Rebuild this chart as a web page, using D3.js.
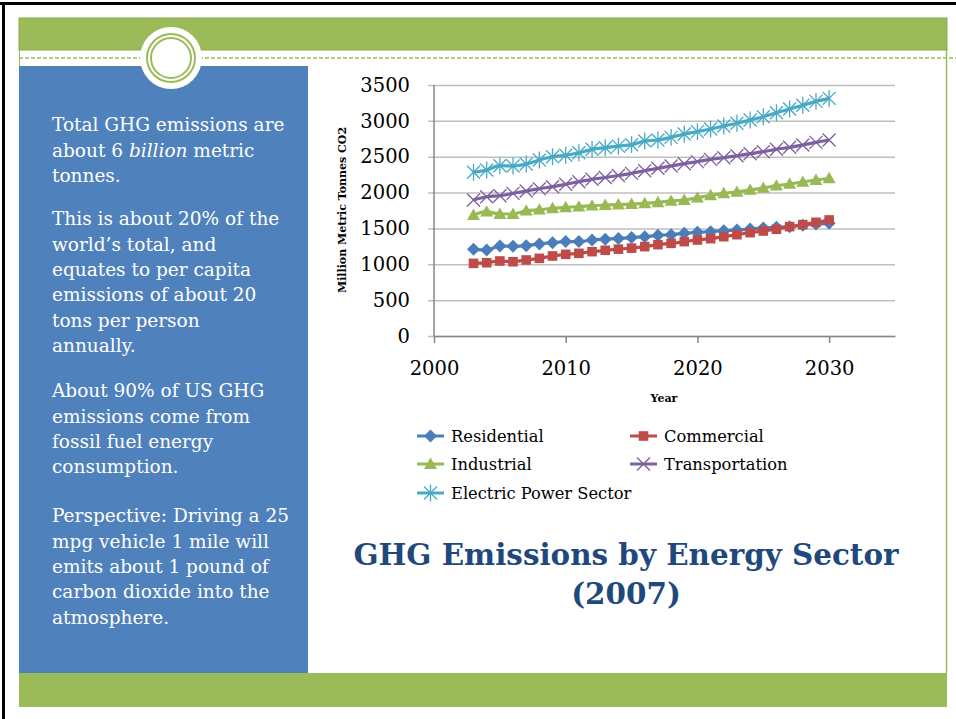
<!doctype html>
<html>
<head>
<meta charset="utf-8">
<style>
  body { margin: 0; background: #fff; }
  svg { display: block; }
  .grid line { stroke: #bfbfbf; stroke-width: 1.5; }
  .grid path { display: none; }
  .tick text { fill: #000; }
  .side { font-family: "DejaVu Serif", serif; font-size: 18.5px; fill: #fff; }
</style>
<script src="https://d3js.org/d3.v7.min.js"></script>
</head>
<body>
<svg width="956" height="719"></svg>
<script>
// ---- data ----
var years = [2003, 2004, 2005, 2006, 2007, 2008, 2009, 2010, 2011, 2012, 2013, 2014, 2015, 2016,
             2017, 2018, 2019, 2020, 2021, 2022, 2023, 2024, 2025, 2026, 2027, 2028, 2029, 2030];
var residential = [1209, 1199, 1255, 1251, 1260, 1283, 1302, 1316, 1316, 1339, 1350, 1360, 1372, 1385,
                   1404, 1413, 1432, 1446, 1455, 1469, 1478, 1492, 1506, 1515, 1525, 1543, 1562, 1571];
var commercial = [1013, 1022, 1046, 1036, 1060, 1083, 1116, 1139, 1153, 1176, 1195, 1211, 1225, 1246,
                  1274, 1292, 1316, 1339, 1357, 1385, 1413, 1441, 1464, 1488, 1525, 1553, 1585, 1618];
var industrial = [1687, 1733, 1701, 1701, 1747, 1761, 1780, 1794, 1803, 1817, 1825, 1832, 1840, 1850,
                  1864, 1883, 1896, 1929, 1961, 1989, 2008, 2036, 2064, 2096, 2120, 2148, 2175, 2199];
var transportation = [1896, 1942, 1956, 1989, 2022, 2054, 2082, 2115, 2152, 2185, 2210, 2238, 2268, 2305,
                      2338, 2370, 2403, 2431, 2463, 2486, 2514, 2542, 2570, 2603, 2631, 2663, 2700, 2733];
var electric = [2283, 2315, 2375, 2370, 2398, 2454, 2500, 2520, 2556, 2603, 2626, 2648, 2668, 2719,
                2733, 2770, 2817, 2850, 2887, 2929, 2966, 3012, 3058, 3114, 3165, 3217, 3272, 3314];

var seriesNames = ["Residential", "Commercial", "Industrial", "Transportation", "Electric Power Sector"];
var seriesValues = [residential, commercial, industrial, transportation, electric];
var seriesColors = ["#4a7ebb", "#be4b48", "#98b954", "#7d60a0", "#46aac5"];
var seriesMarkers = ["diamond", "square", "triangle", "cross", "star"];

var yTicks = [0, 500, 1000, 1500, 2000, 2500, 3000, 3500];
var xTicks = [2000, 2010, 2020, 2030];

var sideText = [
  [["Total GHG emissions are"], ["about 6 ", "billion", " metric"], ["tonnes."]],
  [["This is about 20% of the"], ["world\u2019s total, and"], ["equates to per capita"],
   ["emissions of about 20"], ["tons per person"], ["annually."]],
  [["About 90% of US GHG"], ["emissions come from"], ["fossil fuel energy"], ["consumption."]],
  [["Perspective: Driving a 25"], ["mpg vehicle 1 mile will"], ["emits about 1 pound of"],
   ["carbon dioxide into the"], ["atmosphere."]]
];

var svg = d3.select("svg");
var green = "#9bbb59", blue = "#4f81bd";

// ---- slide frame ----
svg.append("rect").attr("x", 0).attr("y", 2).attr("width", 956).attr("height", 3).attr("fill", "#000");
svg.append("rect").attr("x", 2).attr("y", 2).attr("width", 3).attr("height", 717).attr("fill", "#000");

svg.append("rect").attr("x", 19).attr("y", 18).attr("width", 928).attr("height", 32)
   .attr("fill", green).attr("stroke", "#8aa84e").attr("stroke-width", 1);
svg.append("line").attr("x1", 19).attr("x2", 956).attr("y1", 58).attr("y2", 58)
   .attr("stroke", green).attr("stroke-width", 1.5).attr("stroke-dasharray", "4,2");
svg.append("line").attr("x1", 946.5).attr("x2", 946.5).attr("y1", 50).attr("y2", 673)
   .attr("stroke", green).attr("stroke-width", 1.5);
svg.append("line").attr("x1", 19.5).attr("x2", 19.5).attr("y1", 50).attr("y2", 673)
   .attr("stroke", green).attr("stroke-width", 1);
svg.append("rect").attr("x", 19).attr("y", 66).attr("width", 289).attr("height", 607).attr("fill", blue);
svg.append("rect").attr("x", 19).attr("y", 673).attr("width", 928).attr("height", 34).attr("fill", green);

// circle ornament
svg.append("circle").attr("cx", 171).attr("cy", 58).attr("r", 31).attr("fill", "#fff");
svg.append("circle").attr("cx", 171).attr("cy", 58).attr("r", 24).attr("fill", "none")
   .attr("stroke", green).attr("stroke-width", 2);
svg.append("circle").attr("cx", 171).attr("cy", 58).attr("r", 20).attr("fill", "none")
   .attr("stroke", green).attr("stroke-width", 2);

// ---- side panel text ----
var paraTop = [125, 219, 391, 516];
var lineH = 25.3;
sideText.forEach(function(para, p) {
  para.forEach(function(parts, i) {
    var t = svg.append("text").attr("class", "side").attr("x", 52).attr("y", paraTop[p] + i * lineH)
       .attr("dy", "0.35em");
    parts.forEach(function(s) {
      t.append("tspan").style("font-style", s === "billion" ? "italic" : null).text(s);
    });
  });
});

// ---- chart ----
var x = d3.scaleLinear().domain([2000, 2035]).range([434, 895]);
var y = d3.scaleLinear().domain([0, 3500]).range([336, 85]);

var gy = svg.append("g").attr("class", "grid").attr("transform", "translate(434,0)")
  .call(d3.axisLeft(y).tickValues(yTicks).tickSize(-461).tickPadding(24).tickFormat(d3.format("d")));
gy.selectAll(".tick line").attr("x1", -6);
gy.selectAll(".tick text").style("font-family", "DejaVu Serif, serif").style("font-size", "19.5px");
gy.selectAll(".tick").filter(function(d) { return d === 0; }).select("line").attr("stroke", "#868686");

svg.append("line").attr("x1", 434).attr("x2", 434).attr("y1", 85).attr("y2", 336)
   .attr("stroke", "#868686").attr("stroke-width", 1.5);

var gx = svg.append("g").attr("transform", "translate(0,336)")
  .call(d3.axisBottom(x).tickValues(xTicks).tickSize(7).tickSizeOuter(0).tickFormat(d3.format("d")));
gx.select(".domain").attr("stroke", "#868686").attr("stroke-width", 1.5);
gx.selectAll(".tick line").attr("stroke", "#868686").attr("stroke-width", 1.5);
gx.selectAll(".tick text").attr("y", 25).attr("dy", "0.71em")
  .style("font-family", "DejaVu Serif, serif").style("font-size", "19.5px");

svg.append("text").attr("x", 664).attr("y", 398).attr("dy", "0.35em").attr("text-anchor", "middle")
   .style("font-family", "DejaVu Serif, serif").style("font-weight", "bold").style("font-size", "11px")
   .text("Year");
svg.append("text").attr("transform", "translate(342,210) rotate(-90)").attr("dy", "0.35em")
   .attr("text-anchor", "middle")
   .style("font-family", "DejaVu Serif, serif").style("font-weight", "bold").style("font-size", "11px")
   .text("Million Metric Tonnes CO2");

var line = d3.line().curve(d3.curveMonotoneX)
  .x(function(d, i) { return x(years[i]); })
  .y(function(d) { return y(d); });

function markerPath(type, s) {
  var p = d3.path();
  if (type === "diamond") {
    p.moveTo(0, -s); p.lineTo(s, 0); p.lineTo(0, s); p.lineTo(-s, 0); p.closePath();
  } else if (type === "square") {
    p.rect(-s * 0.8, -s * 0.8, s * 1.6, s * 1.6);
  } else if (type === "triangle") {
    p.moveTo(0, -s); p.lineTo(s, s * 0.75); p.lineTo(-s, s * 0.75); p.closePath();
  } else if (type === "cross") {
    p.moveTo(-s, -s); p.lineTo(s, s); p.moveTo(-s, s); p.lineTo(s, -s);
  } else {
    p.moveTo(-s, -s); p.lineTo(s, s); p.moveTo(-s, s); p.lineTo(s, -s);
    p.moveTo(0, -s * 1.3); p.lineTo(0, s * 1.3);
  }
  return p.toString();
}
function drawMarker(g, type, color, cx, cy) {
  var filled = type === "diamond" || type === "square" || type === "triangle";
  g.append("path").attr("transform", "translate(" + cx + "," + cy + ")")
   .attr("d", markerPath(type, type === "square" ? 6 : 6.5))
   .attr("fill", filled ? color : "none")
   .attr("stroke", color).attr("stroke-width", filled ? 0 : 1.3);
}

// draw in Excel order: later series on top
seriesValues.forEach(function(vals, k) {
  var g = svg.append("g");
  g.append("path").attr("d", line(vals)).attr("fill", "none")
   .attr("stroke", seriesColors[k]).attr("stroke-width", 3.2);
  vals.forEach(function(v, i) { drawMarker(g, seriesMarkers[k], seriesColors[k], x(years[i]), y(v)); });
});

// ---- legend ----
var legPos = [[417, 436], [630, 436], [417, 464], [630, 464], [417, 493]];
seriesNames.forEach(function(name, k) {
  var g = svg.append("g").attr("transform", "translate(" + legPos[k][0] + "," + legPos[k][1] + ")");
  g.append("line").attr("x1", 0).attr("x2", 27).attr("stroke", seriesColors[k]).attr("stroke-width", 3);
  drawMarker(g, seriesMarkers[k], seriesColors[k], 13.5, 0);
  g.append("text").attr("x", 34).attr("dy", "0.35em")
   .style("font-family", "DejaVu Serif, serif").style("font-size", "16.3px").text(name);
});

// ---- title ----
svg.append("text").attr("x", 626).attr("y", 565).attr("text-anchor", "middle")
   .style("font-family", "DejaVu Serif, serif").style("font-weight", "bold").style("font-size", "29.4px")
   .attr("fill", "#1f497d").text("GHG Emissions by Energy Sector");
svg.append("text").attr("x", 626).attr("y", 604).attr("text-anchor", "middle")
   .style("font-family", "DejaVu Serif, serif").style("font-weight", "bold").style("font-size", "29.4px")
   .attr("fill", "#1f497d").text("(2007)");
</script>
</body>
</html>
